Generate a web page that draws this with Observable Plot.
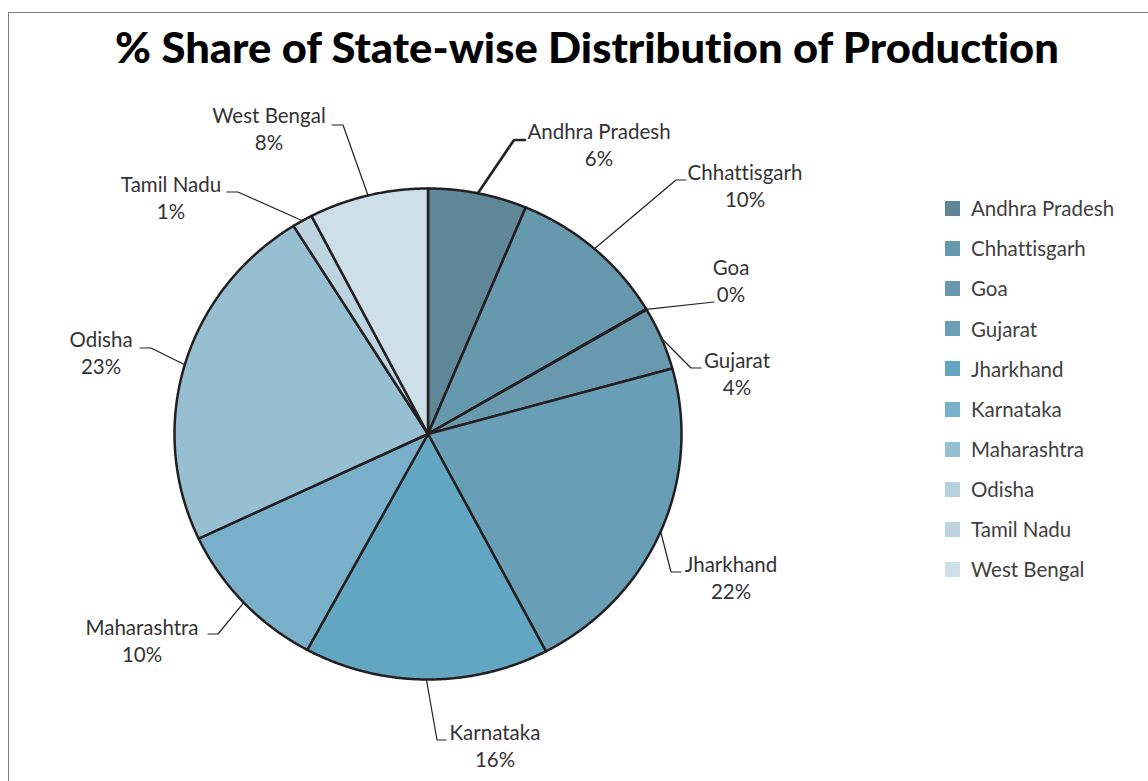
<!DOCTYPE html>
<html><head><meta charset="utf-8">
<script src="https://cdn.jsdelivr.net/npm/d3@7"></script>
<script src="https://cdn.jsdelivr.net/npm/@observablehq/plot@0.6"></script>
<style>
body{margin:0;background:#fff;}
#wrap{position:relative;width:1148px;height:781px;overflow:hidden;font-family:Lato,"Open Sans",sans-serif;font-variant-ligatures:none;}
#frame{position:absolute;left:7.5px;top:11.5px;width:1200px;height:900px;border-top:1.5px solid #7f7f7f;border-left:1.5px solid #7f7f7f;}
#title{position:absolute;left:12.5px;width:1148px;text-align:center;top:47px;line-height:1;font-weight:900;color:#000;white-space:nowrap;font-variant-ligatures:none;}
#chart{position:absolute;left:0;top:80px;}
#legend{position:absolute;left:0;top:0;}
.lg{position:absolute;height:15px;display:flex;align-items:center;white-space:nowrap;}
.sw{width:15px;height:15px;margin-right:11px;}
.lt{font-size:20.5px;color:#404040;line-height:1;}
</style></head>
<body><div id="wrap"><div id="frame"></div><div id="title"></div><div id="chart"></div><div id="legend"></div></div>
<script>
const titleText = "% Share of State-wise Distribution of Production";
const states = ["Andhra Pradesh","Chhattisgarh","Goa","Gujarat","Jharkhand","Karnataka","Maharashtra","Odisha","Tamil Nadu","West Bengal"];
const shares = [6.3, 10.2, 0.05, 4.15, 21.6, 15.6, 10.1, 23.1, 1.3, 7.6];
const pctLabels = ["6%","10%","0%","4%","22%","16%","10%","23%","1%","8%"];

// styles
const pieColors = ["#5f8797","#6698ae","#6698ae","#6899af","#699fb6","#62a6c1","#79afc9","#97bfd2","#bcd3e0","#cddfe9"];
const legendColors = ["#5f8696","#6598ad","#6798ae","#6a9fb6","#62a6c1","#78b0ca","#96bfd2","#b8d1de","#bdd3e0","#cddfe9"];
// label layout: name-line center offset, leader elbow offset, tick end x offset (px from pie centre)
const labelLayout = [
  {lx:171, ly:-301, ex:86, ey:-294, tx:97},
  {lx:317, ly:-260, ex:248, ey:-254, tx:258},
  {lx:303, ly:-165, ex:286, ey:-132, tx:286},
  {lx:309, ly:-72, ex:263, ey:-66, tx:273},
  {lx:303, ly:132, ex:243, ey:138, tx:253},
  {lx:67, ly:300, ex:9, ey:306, tx:18},
  {lx:-286, ly:195, ex:-210, ey:200, tx:-220},
  {lx:-327, ly:-93, ex:-277, ey:-86, tx:-288},
  {lx:-257, ly:-248, ex:-190, ey:-242, tx:-201},
  {lx:-159, ly:-317, ex:-85, ey:-309, tx:-96}
];

const W = 1148, H = 701;
const CX = 427.5, CY = 353.5, RX = 253.5, RY = 245.5;
const LINE = 27, FS = 20.5, TEXT_SHIFT = -3;

// title: sized for cap height, compressed to the reference width
const tEl = document.getElementById("title");
const ctx = document.createElement("canvas").getContext("2d");
const TFS = 42;
ctx.font = `900 ${TFS}px Lato`;
const tw = ctx.measureText(titleText).width;
tEl.style.fontSize = TFS + "px";
tEl.style.transform = `translateY(-50%) scaleX(${947 / tw})`;
tEl.textContent = titleText;

const arcs = d3.pie().sort(null).value(d => d)(shares);
const slicePts = [];
arcs.forEach((a, i) => {
  const name = states[i];
  slicePts.push({name, x: 0, y: 0});
  const n = Math.max(2, Math.ceil((a.endAngle - a.startAngle) / 0.005));
  for (let k = 0; k <= n; k++) {
    const t = a.startAngle + (a.endAngle - a.startAngle) * k / n;
    slicePts.push({name, x: Math.sin(t), y: Math.cos(t)});
  }
  slicePts.push({name, x: 0, y: 0});
});

const leaderPts = [];
const labels = [];
arcs.forEach((a, i) => {
  const name = states[i], L = labelLayout[i];
  const m = (a.startAngle + a.endAngle) / 2;
  leaderPts.push({name, x: Math.sin(m), y: Math.cos(m)});
  leaderPts.push({name, x: L.ex / RX, y: -L.ey / RY});
  leaderPts.push({name, x: L.tx / RX, y: -L.ey / RY});
  labels.push({name, x: L.lx / RX, y: -(L.ly + LINE / 2 + TEXT_SHIFT) / RY, text: name + "\n" + pctLabels[i]});
});

const plot = Plot.plot({
  width: W, height: H,
  margin: 0,
  x: {domain: [-CX / RX, (W - CX) / RX], range: [0, W], axis: null},
  y: {domain: [-(H - CY) / RY, CY / RY], range: [H, 0], axis: null},
  color: {domain: states, range: pieColors},
  style: {background: "transparent", fontFamily: "Lato, 'Open Sans', sans-serif"},
  marks: [
    Plot.line(slicePts, {x: "x", y: "y", z: "name", fill: "name", stroke: "#231f20", strokeWidth: 2.5, strokeLinejoin: "round", curve: "linear"}),
    Plot.line(leaderPts, {x: "x", y: "y", z: "name", stroke: "#231f20", strokeWidth: d => d.name === "Andhra Pradesh" ? 2.6 : 1.2}),
    Plot.text(labels, {x: "x", y: "y", text: "text", fontSize: FS, lineHeight: LINE / FS, fill: "#333333", textAnchor: "middle"})
  ]
});
document.getElementById("chart").appendChild(plot);

const lg = document.getElementById("legend");
states.forEach((s, i) => {
  const row = document.createElement("div");
  row.className = "lg";
  row.style.left = "945px";
  row.style.top = (201 + i * 40.1) + "px";
  row.innerHTML = `<div class="sw" style="background:${legendColors[i]}"></div><span class="lt">${s}</span>`;
  lg.appendChild(row);
});
</script></body></html>
